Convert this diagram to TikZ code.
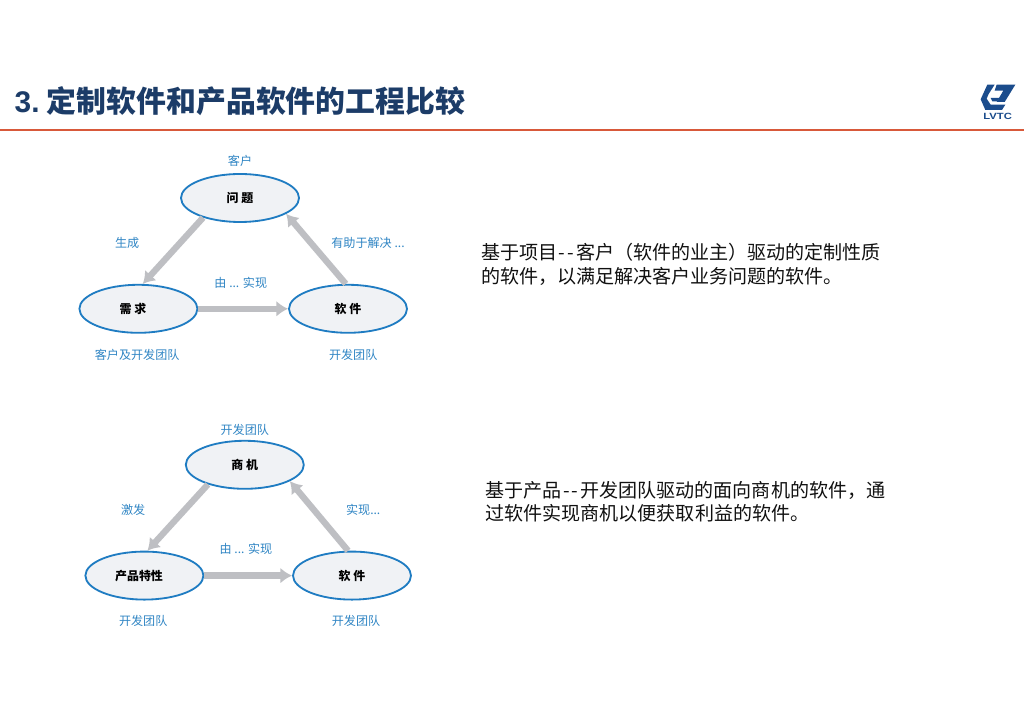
\documentclass[tikz,border=0pt]{standalone}
\usepackage{fontspec}
\setmainfont{Noto Sans CJK SC}
\newfontfamily\latinhead{Liberation Sans}
\newfontfamily\latinwide[FakeStretch=1.25]{Liberation Sans}
\usetikzlibrary{arrows.meta,shapes.geometric}
\definecolor{titleNavy}{HTML}{1C3C68}
\definecolor{ruleRed}{HTML}{D8593A}
\definecolor{labelBlue}{HTML}{2F85C4}
\definecolor{ovalLine}{HTML}{1F7CC2}
\definecolor{ovalFill}{HTML}{F0F2F5}
\definecolor{flowGrey}{HTML}{BEBFC3}
\definecolor{logoBlue}{HTML}{1B4C8C}
\definecolor{textBody}{HTML}{111111}
\newcommand{\dbldash}{\kern1pt-\kern1.4pt-\kern1.6pt}
\tikzset{
  oval/.style={ellipse,draw=ovalLine,line width=1.3pt,fill=ovalFill,inner sep=0pt,
               minimum width=2.95cm,minimum height=1.2cm,text=black,
               font=\fontsize{8.5pt}{10pt}\selectfont\bfseries},
  role/.style={text=labelBlue,inner sep=0pt,font=\fontsize{8.6pt}{10pt}\selectfont},
  flow/.style={-{Latex[length=2.9mm,width=3.9mm]},draw=flowGrey,line width=4.5pt},
  remark/.style={anchor=west,align=left,inner sep=0pt,text=textBody,
                 font=\fontsize{13.55pt}{16.4pt}\selectfont}
}
\begin{document}
\begin{tikzpicture}
        \useasboundingbox[fill=white] (0,0) rectangle (25.6,18.1);
        \node[anchor=west,inner sep=0pt,text=titleNavy,
              font=\fontsize{21.25pt}{25pt}\selectfont\bfseries]
              (title) at (0.36,15.57) {{\latinhead 3.}\kern5.2pt定制软件和产品软件的工程比较};
        \coordinate (ruleL) at (0,14.86);
        \coordinate (ruleR) at (25.6,14.86);
        \draw[ruleRed,line width=1.4pt] (ruleL) -- (ruleR);
        \begin{scope}[shift={(24.0,16.35)},x=0.00833cm,y=-0.00833cm]
          \fill[logoBlue] (82,44) -- (104,44) -- (86,72) -- (80,86) -- (92,104)
                -- (136,104) -- (126,120) -- (76,120) -- (62,88) -- cycle;
          \fill[logoBlue] (110,44) -- (166,44) -- (134,96) -- (110,96)
                -- (130,62) -- (104,62) -- cycle;
          \fill[logoBlue] (92,84) -- (118,84) -- (112,94) -- (97,94) -- cycle;
        \end{scope}
        \node[inner sep=0pt,text=logoBlue,font=\fontsize{6.4pt}{8pt}\selectfont\bfseries]
              (brand) at (24.94,15.2) {\latinwide LVTC};

        \node[oval] (problem) at (6.0,13.15) {问 题};
        \node[oval] (needs) at (3.46,10.38) {需 求\kern0.27cm};
        \node[oval] (softA) at (8.7,10.38) {软 件};
        \node[role] (whoProblem) at (6.0,14.07) {客户};
        \node[role] (makes) at (3.18,12.02) {生成};
        \node[role] (helps) at (9.2,12.02) {有助于解决 ...};
        \node[role] (buildA) at (6.02,11.03) {由 ... 实现};
        \node[role] (whoNeeds) at (3.43,9.23) {客户及开发团队};
        \node[role] (whoSoftA) at (8.83,9.23) {开发团队};
        \draw[flow] (problem.208) -- (needs.80);
        \draw[flow] (needs.east) -- (softA.west);
        \draw[flow] (softA.95) -- (problem.341);

        \node[oval] (market) at (6.12,6.48) {商 机};
        \node[oval] (feature) at (3.61,3.71) {产品特性\kern0.27cm};
        \node[oval] (softB) at (8.8,3.71) {软 件};
        \node[role] (whoMarket) at (6.12,7.35) {开发团队};
        \node[role] (sparks) at (3.33,5.35) {激发};
        \node[role] (realises) at (9.08,5.35) {实现...};
        \node[role] (buildB) at (6.15,4.38) {由 ... 实现};
        \node[role] (whoFeature) at (3.58,2.58) {开发团队};
        \node[role] (whoSoftB) at (8.9,2.58) {开发团队};
        \draw[flow] (market.208) -- (feature.83);
        \draw[flow] (feature.east) -- (softB.west);
        \draw[flow] (softB.99) -- (market.340);

        \node[remark] (noteA) at (12.02,11.49)
              {基于项目\dbldash 客户（软件的业主）驱动的定制性质\\的软件，以满足解决客户业务问题的软件。};
        \node[remark] (noteB) at (12.13,5.56)
              {基于产品\dbldash 开发团队驱动的面向商机的软件，通\\过软件实现商机以便获取利益的软件。};
\end{tikzpicture}
\end{document}
